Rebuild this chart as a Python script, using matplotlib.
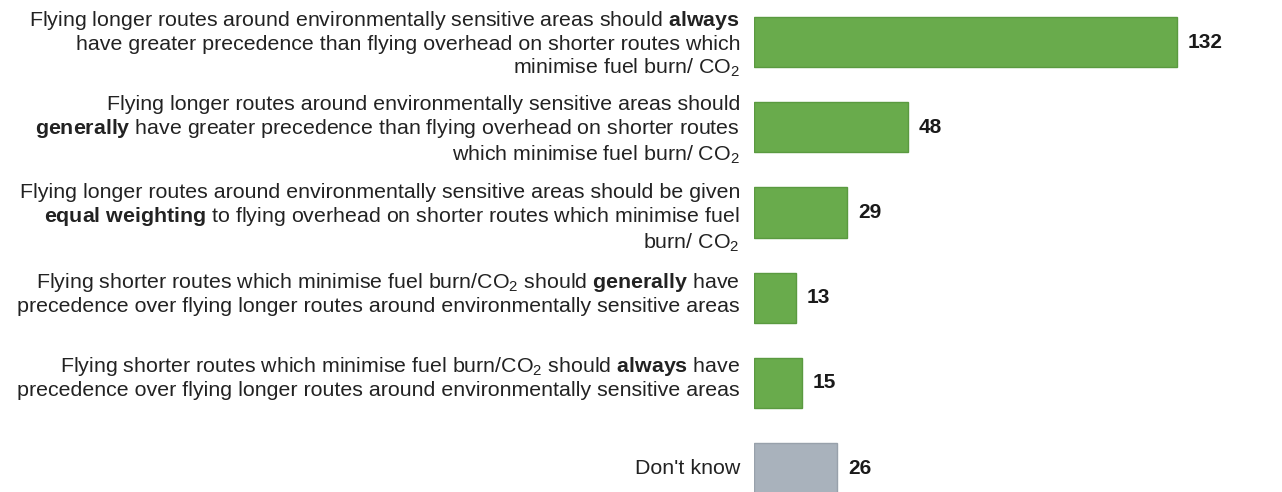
import matplotlib
matplotlib.use("Agg")
import matplotlib.pyplot as plt

plt.rcParams['font.family'] = ['Liberation Sans', 'DejaVu Sans']
plt.rcParams['mathtext.fontset'] = 'custom'
plt.rcParams['mathtext.rm'] = 'Liberation Sans'
plt.rcParams['mathtext.it'] = 'Liberation Sans:italic'
plt.rcParams['mathtext.bf'] = 'Liberation Sans:bold'

categories = [
    "Flying longer routes around environmentally sensitive areas should $\\mathbf{always}$\n"
    "have greater precedence than flying overhead on shorter routes which\n"
    "minimise fuel burn/ CO$_2$",
    "Flying longer routes around environmentally sensitive areas should\n"
    "$\\mathbf{generally}$ have greater precedence than flying overhead on shorter routes\n"
    "which minimise fuel burn/ CO$_2$",
    "Flying longer routes around environmentally sensitive areas should be given\n"
    "$\\mathbf{equal\\ weighting}$ to flying overhead on shorter routes which minimise fuel\n"
    "burn/ CO$_2$",
    "Flying shorter routes which minimise fuel burn/CO$_2$ should $\\mathbf{generally}$ have\n"
    "precedence over flying longer routes around environmentally sensitive areas",
    "Flying shorter routes which minimise fuel burn/CO$_2$ should $\\mathbf{always}$ have\n"
    "precedence over flying longer routes around environmentally sensitive areas",
    "Don't know",
]
values = [132, 48, 29, 13, 15, 26]
colors = ['#69ab4c'] * 5 + ['#a9b2bc']
edges = ['#5a9a40'] * 5 + ['#98a1ab']

# small vertical nudges (pixels) for the wrapped category labels
label_nudge = [-2, -3, -6, 4, 5, 0]

fig = plt.figure(figsize=(12.82, 4.92), dpi=100)
ax = fig.add_axes([754 / 1282, 0, 1 - 754 / 1282, 1])

ypos = list(range(len(values)))
ax.barh(ypos, values, height=0.59, color=colors, edgecolor=edges, linewidth=1)
ax.set_xlim(0, 132 * (1282 - 754) / 423)
ax.set_ylim(5.28, -0.493)
ax.axis('off')

for y, v, lab, dy in zip(ypos, values, categories, label_nudge):
    ax.annotate(f"{v}", xy=(v, y), xytext=(11, 0), textcoords='offset pixels',
                ha='left', va='center', fontsize=15, fontweight='bold', color='#1a1a1a')
    ax.annotate(lab, xy=(0, y), xytext=(-14, dy), textcoords='offset pixels',
                ha='right', va='center', multialignment='right', fontsize=15.4,
                color='#222222', linespacing=1.2, annotation_clip=False)

fig.savefig("out.png", dpi=100, facecolor='white')
